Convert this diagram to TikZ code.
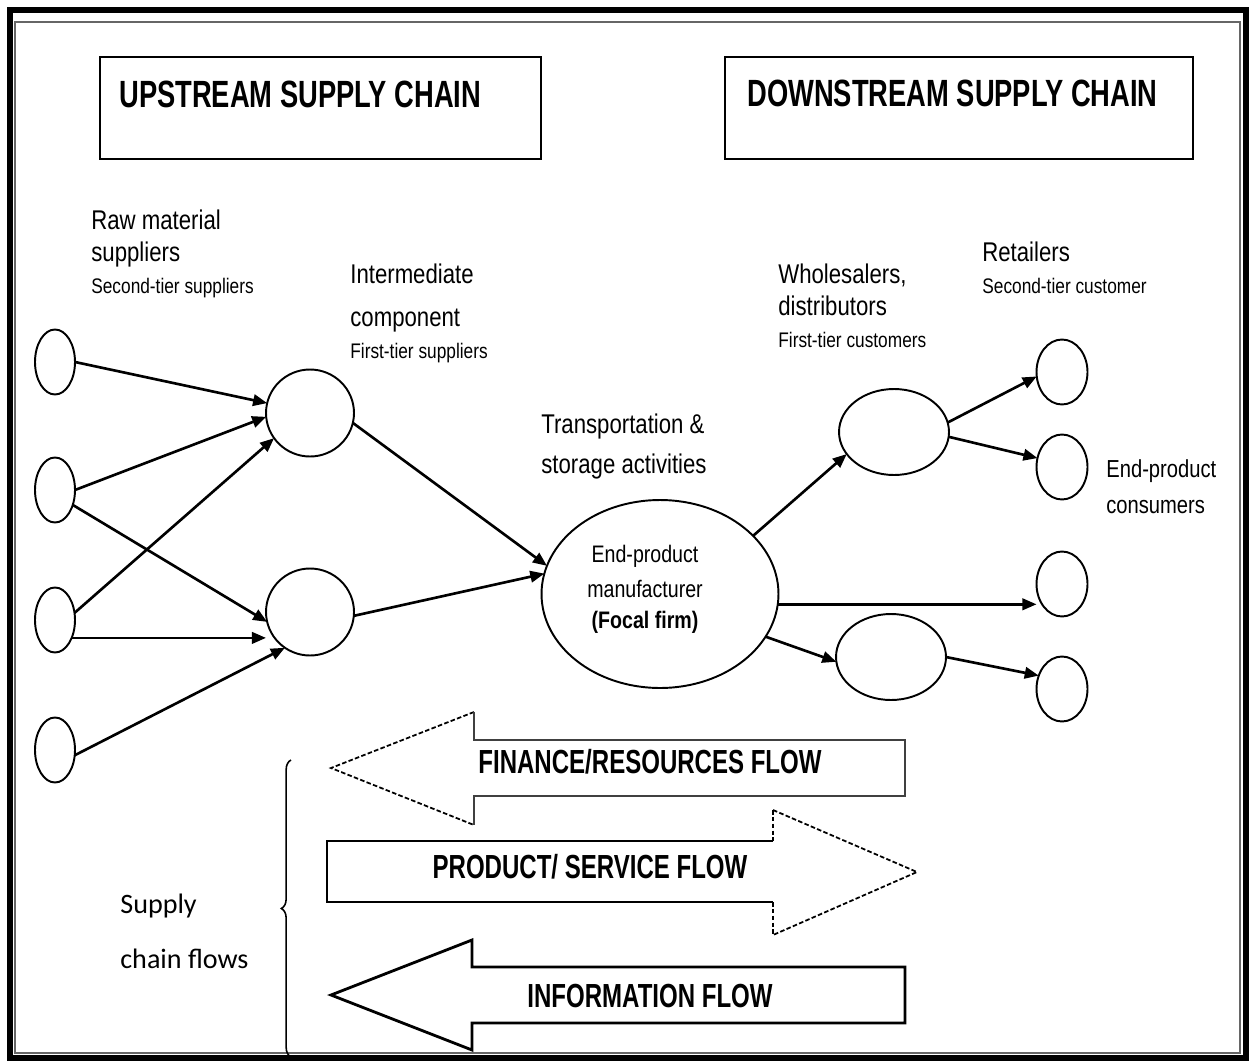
\documentclass[tikz,border=0pt]{standalone}
\usepackage{fontspec}
\setmainfont{Liberation Sans}
\newfontfamily\lblfont[FakeStretch=0.82]{Liberation Sans}
\newfontfamily\hdfont[FakeStretch=0.72]{Liberation Sans}
\newfontfamily\calfont{Carlito}
\usetikzlibrary{shapes.geometric,arrows.meta,calc,positioning}
\usetikzlibrary{decorations.pathreplacing}

\newcommand{\lbltxt}{\lblfont\fontsize{15.4}{18.2}\selectfont}
\newcommand{\sublbl}{\lblfont\fontsize{12}{14}\selectfont}
\newcommand{\hdtxt}{\hdfont\bfseries\fontsize{21.6}{26}\selectfont}
\newcommand{\flowtxt}{\hdfont\bfseries\fontsize{19}{22}\selectfont}

\tikzset{
  party/.style={ellipse, draw, line width=1.1pt, inner sep=0pt, outer sep=0pt},
  rawnode/.style={party, minimum width=0.8cm, minimum height=1.3cm},
  midnode/.style={party, minimum width=1.76cm, minimum height=1.74cm},
  wholenode/.style={party, minimum width=2.2cm, minimum height=1.72cm},
  consnode/.style={party, minimum width=1.02cm, minimum height=1.3cm},
  conn/.style={-{Triangle[length=8pt,width=6.5pt]}, line width=1.5pt},
  lbl/.style={anchor=base west, align=left, inner sep=0pt, font=\lbltxt},
  headdash/.style={line width=1pt, dash pattern=on 2.6pt off 1.3pt},
  shaft/.style={line width=1.1pt, black!75}
}

\begin{document}
\begin{tikzpicture}[x=0.02cm, y=-0.02cm]
    \useasboundingbox (0,0) rectangle (1250,1061);
    % frame
    \draw[line width=3.4pt] (10,10) rectangle (1246,1058);
    \draw[black!60, line width=0.8pt] (15,22) rectangle (1240,1053);

    % upstream / downstream
    \draw[line width=0.9pt] (100,57) rectangle (541,159);
    \draw[line width=0.9pt] (725,57) rectangle (1193,159);
    \node[anchor=base west, inner sep=0pt, font=\hdtxt] (uptitle) at (119,108) {UPSTREAM SUPPLY CHAIN};
    \node[anchor=base west, inner sep=0pt, font=\hdtxt] (downtitle) at (747,107) {DOWNSTREAM SUPPLY CHAIN};

    % labels (base = last line)
    \node[lbl] (rawlbl) at (91,293) {Raw material\\suppliers\\{\sublbl Second-tier suppliers}};
    \node[lbl] (midlbl) at (350,358) {Intermediate\\[6.2pt]component\\{\sublbl First-tier suppliers}};
    \node[lbl] (translbl) at (541,473) {Transportation \&\\[4.5pt]storage activities};
    \node[lbl] (wholelbl) at (778,347) {Wholesalers,\\distributors\\{\sublbl First-tier customers}};
    \node[lbl] (retlbl) at (982,293) {Retailers\\{\sublbl Second-tier customer}};
    \node[lbl, font=\lblfont\fontsize{14}{20.4}\selectfont] (conslbl) at (1106,513) {End-product\\consumers};

    % parties
    \node[rawnode] (raw1) at (55,362) {};
    \node[rawnode] (raw2) at (55,490) {};
    \node[rawnode] (raw3) at (55,620) {};
    \node[rawnode] (raw4) at (55,750) {};
    \node[midnode] (mid1) at (310,413) {};
    \node[midnode] (mid2) at (310,612) {};
    \node[party, minimum width=4.74cm, minimum height=3.76cm] (focal) at (660,594) {};
    \node[anchor=base, align=center, inner sep=0pt, font=\lblfont\fontsize{13.6}{17.6}\selectfont] (focaltxt) at (645,628)
        {End-product\\[2.3pt]manufacturer\\{\bfseries (Focal firm)}};
    \node[wholenode] (whole1) at (894,432) {};
    \node[wholenode] (whole2) at (891,657) {};
    \node[consnode] (cons1) at (1062,372) {};
    \node[consnode] (cons2) at (1062,467) {};
    \node[consnode] (cons3) at (1062,584) {};
    \node[consnode] (cons4) at (1062,689) {};

    % connectors
    \draw[conn] (raw1.east) -- (mid1.167);
    \draw[conn] (raw2.east) -- (mid1.185);
    \draw[conn] (raw2.-40) -- (mid2.193);
    \draw[conn] (raw3.20) -- (mid1.215);
    \draw[conn] (raw3.-47) -- (raw3.-47 -| mid2.west);
    \draw[conn] (raw4.-15) -- (mid2.235);
    \draw[conn] (mid1.-13) -- (focal.166);
    \draw[conn] (mid2.-5) -- (focal.170);
    \draw[conn] (focal.32) -- (whole1.205);
    \draw[conn] (whole1.10) -- (cons1.190);
    \draw[conn] (whole1.-5) -- (cons2.160);
    \draw[conn] (focal.-5) -- (focal.-5 -| cons3.west);
    \draw[conn] (focal.-22) -- (whole2.185);
    \draw[conn] (whole2.east) -- (cons4.150);

    % flows
    \draw[headdash] (474,712) -- (331,768) -- (474,825);
    \draw[shaft] (474,712) -- (474,740) -- (905,740) -- (905,796) -- (474,796) -- (474,825);
    \node[font=\flowtxt, anchor=base, inner sep=0pt] (finflow) at (650,773) {FINANCE/RESOURCES FLOW};

    \draw[headdash] (773,810) -- (917,872) -- (773,935);
    \draw[headdash] (773,810) -- (773,841);
    \draw[headdash] (773,902) -- (773,935);
    \draw[line width=1.2pt] (773,841) -- (327,841) -- (327,902) -- (773,902);
    \node[font=\flowtxt, anchor=base, inner sep=0pt] (prodflow) at (590,878) {PRODUCT/ SERVICE FLOW};

    \draw[line width=1.6pt] (905,967) -- (472,967) -- (472,940) -- (331,995) -- (472,1050) -- (472,1023) -- (905,1023) -- cycle;
    \node[font=\flowtxt, anchor=base, inner sep=0pt] (infoflow) at (650,1007) {INFORMATION FLOW};

    \draw[line width=0.9pt, decorate, decoration={brace, amplitude=5.5pt}] (291,1057) -- (291,760);
    \node[anchor=base west, align=left, inner sep=0pt, font=\calfont\fontsize{16}{31}\selectfont] (flowlbl) at (120,968) {Supply\\chain flows};
\end{tikzpicture}
\end{document}
